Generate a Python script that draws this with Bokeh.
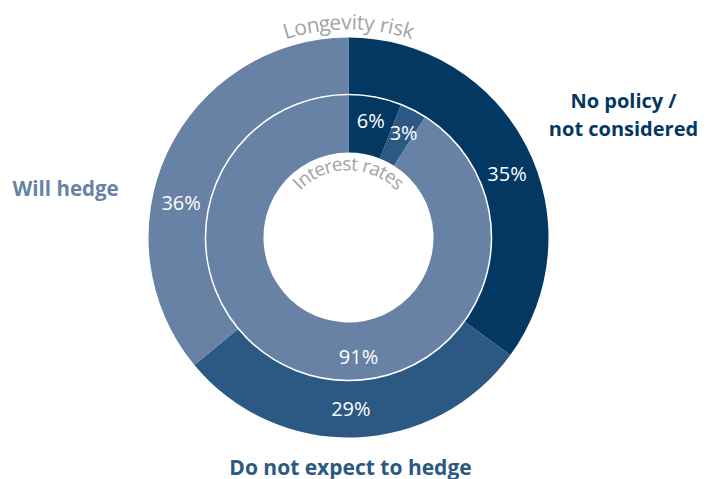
import math
from bokeh.plotting import figure
from bokeh.models import Range1d, ColumnDataSource
from bokeh.core.properties import value
from bokeh.embed import file_html
from bokeh.resources import INLINE

# ---- data ----
categories = ["No policy / not considered", "Do not expect to hedge", "Will hedge"]
longevity_risk = [35, 29, 36]      # outer ring
interest_rates = [6, 3, 91]        # inner ring
ring_titles = ["Longevity risk", "Interest rates"]

# ---- style / layout ----
colors = ["#033863", "#2c5983", "#6882a5"]
label_shift_outer = [5, 1, -13.4]   # degrees, shift of % label from slice middle
label_shift_inner = [0, 0.6, -21]
FONT = "Open Sans"

W, H = 708, 479
cx, cy = 348, H - 237
R_OUT, R_MID, R_IN = 200, 143, 85

p = figure(width=W, height=H, output_backend="svg", toolbar_location=None,
           x_range=Range1d(0, W), y_range=Range1d(0, H), min_border=0)
p.axis.visible = False
p.grid.visible = False
p.outline_line_color = None
p.background_fill_color = "white"
p.border_fill_color = "white"


def ring(vals, r0, r1, shifts, lab_r):
    tot = float(sum(vals))
    starts, ends, lx, ly, labs = [], [], [], [], []
    cum = 0.0
    for v, sh in zip(vals, shifts):
        a0 = cum / tot * 2 * math.pi
        a1 = (cum + v) / tot * 2 * math.pi
        starts.append(math.pi / 2 - a0)
        ends.append(math.pi / 2 - a1)
        mid = (a0 + a1) / 2 + math.radians(sh)
        lx.append(cx + lab_r * math.sin(mid))
        ly.append(cy + lab_r * math.cos(mid))
        labs.append(f"{v}%")
        cum += v
    src = ColumnDataSource(dict(start=starts, end=ends, color=colors[:len(vals)]))
    p.annular_wedge(x=cx, y=cy, inner_radius=r0, outer_radius=r1,
                    start_angle="start", end_angle="end", direction="clock",
                    fill_color="color", line_color=None, source=src)
    p.text(x=lx, y=ly, text=labs, text_color="white", text_font=value(FONT),
           text_font_size="20px", text_align="center", text_baseline="middle")


ring(longevity_risk, R_MID, R_OUT, label_shift_outer, 171)
ring(interest_rates, R_IN, R_MID, label_shift_inner, 119)
p.circle(x=[cx], y=[cy], radius=R_MID, fill_color=None, line_color="white", line_width=1.5)

# ---- curved titles ----
EM = {"L": .535, "o": .604, "n": .614, "g": .489, "e": .561, "v": .503, "i": .253,
      "t": .353, "y": .504, " ": .26, "r": .408, "s": .477, "k": .504, "I": .303,
      "a": .556}


def arc_text(text, r, size):
    widths = [EM.get(ch, .55) * size for ch in text]
    total = sum(widths)
    s = -total / 2
    xs, ys, angs, chs = [], [], [], []
    for ch, w in zip(text, widths):
        th = (s + w / 2) / r
        xs.append(cx + r * math.sin(th))
        ys.append(cy + r * math.cos(th))
        angs.append(-th)
        chs.append(ch)
        s += w
    p.text(x=xs, y=ys, text=chs, angle=angs, text_color="#a4a4a4",
           text_font=value(FONT), text_font_size=f"{size}px",
           text_align="center", text_baseline="middle")


arc_text(ring_titles[0], 216, 21)
arc_text(ring_titles[1], 74, 19)

# ---- category labels ----
p.text(x=[623, 623], y=[H - 100, H - 128], text=["No policy /", "not considered"],
       text_color=colors[0], text_font=value(FONT), text_font_style="bold",
       text_font_size="20px", text_align="center", text_baseline="middle")
p.text(x=[12], y=[H - 187], text=[categories[2]], text_color=colors[2],
       text_font=value(FONT), text_font_style="bold", text_font_size="20.5px",
       text_align="left", text_baseline="middle")
p.text(x=[350], y=[H - 466], text=[categories[1]], text_color=colors[1],
       text_font=value(FONT), text_font_style="bold", text_font_size="21px",
       text_align="center", text_baseline="middle")

open("out.html", "w").write(file_html(p, INLINE))
